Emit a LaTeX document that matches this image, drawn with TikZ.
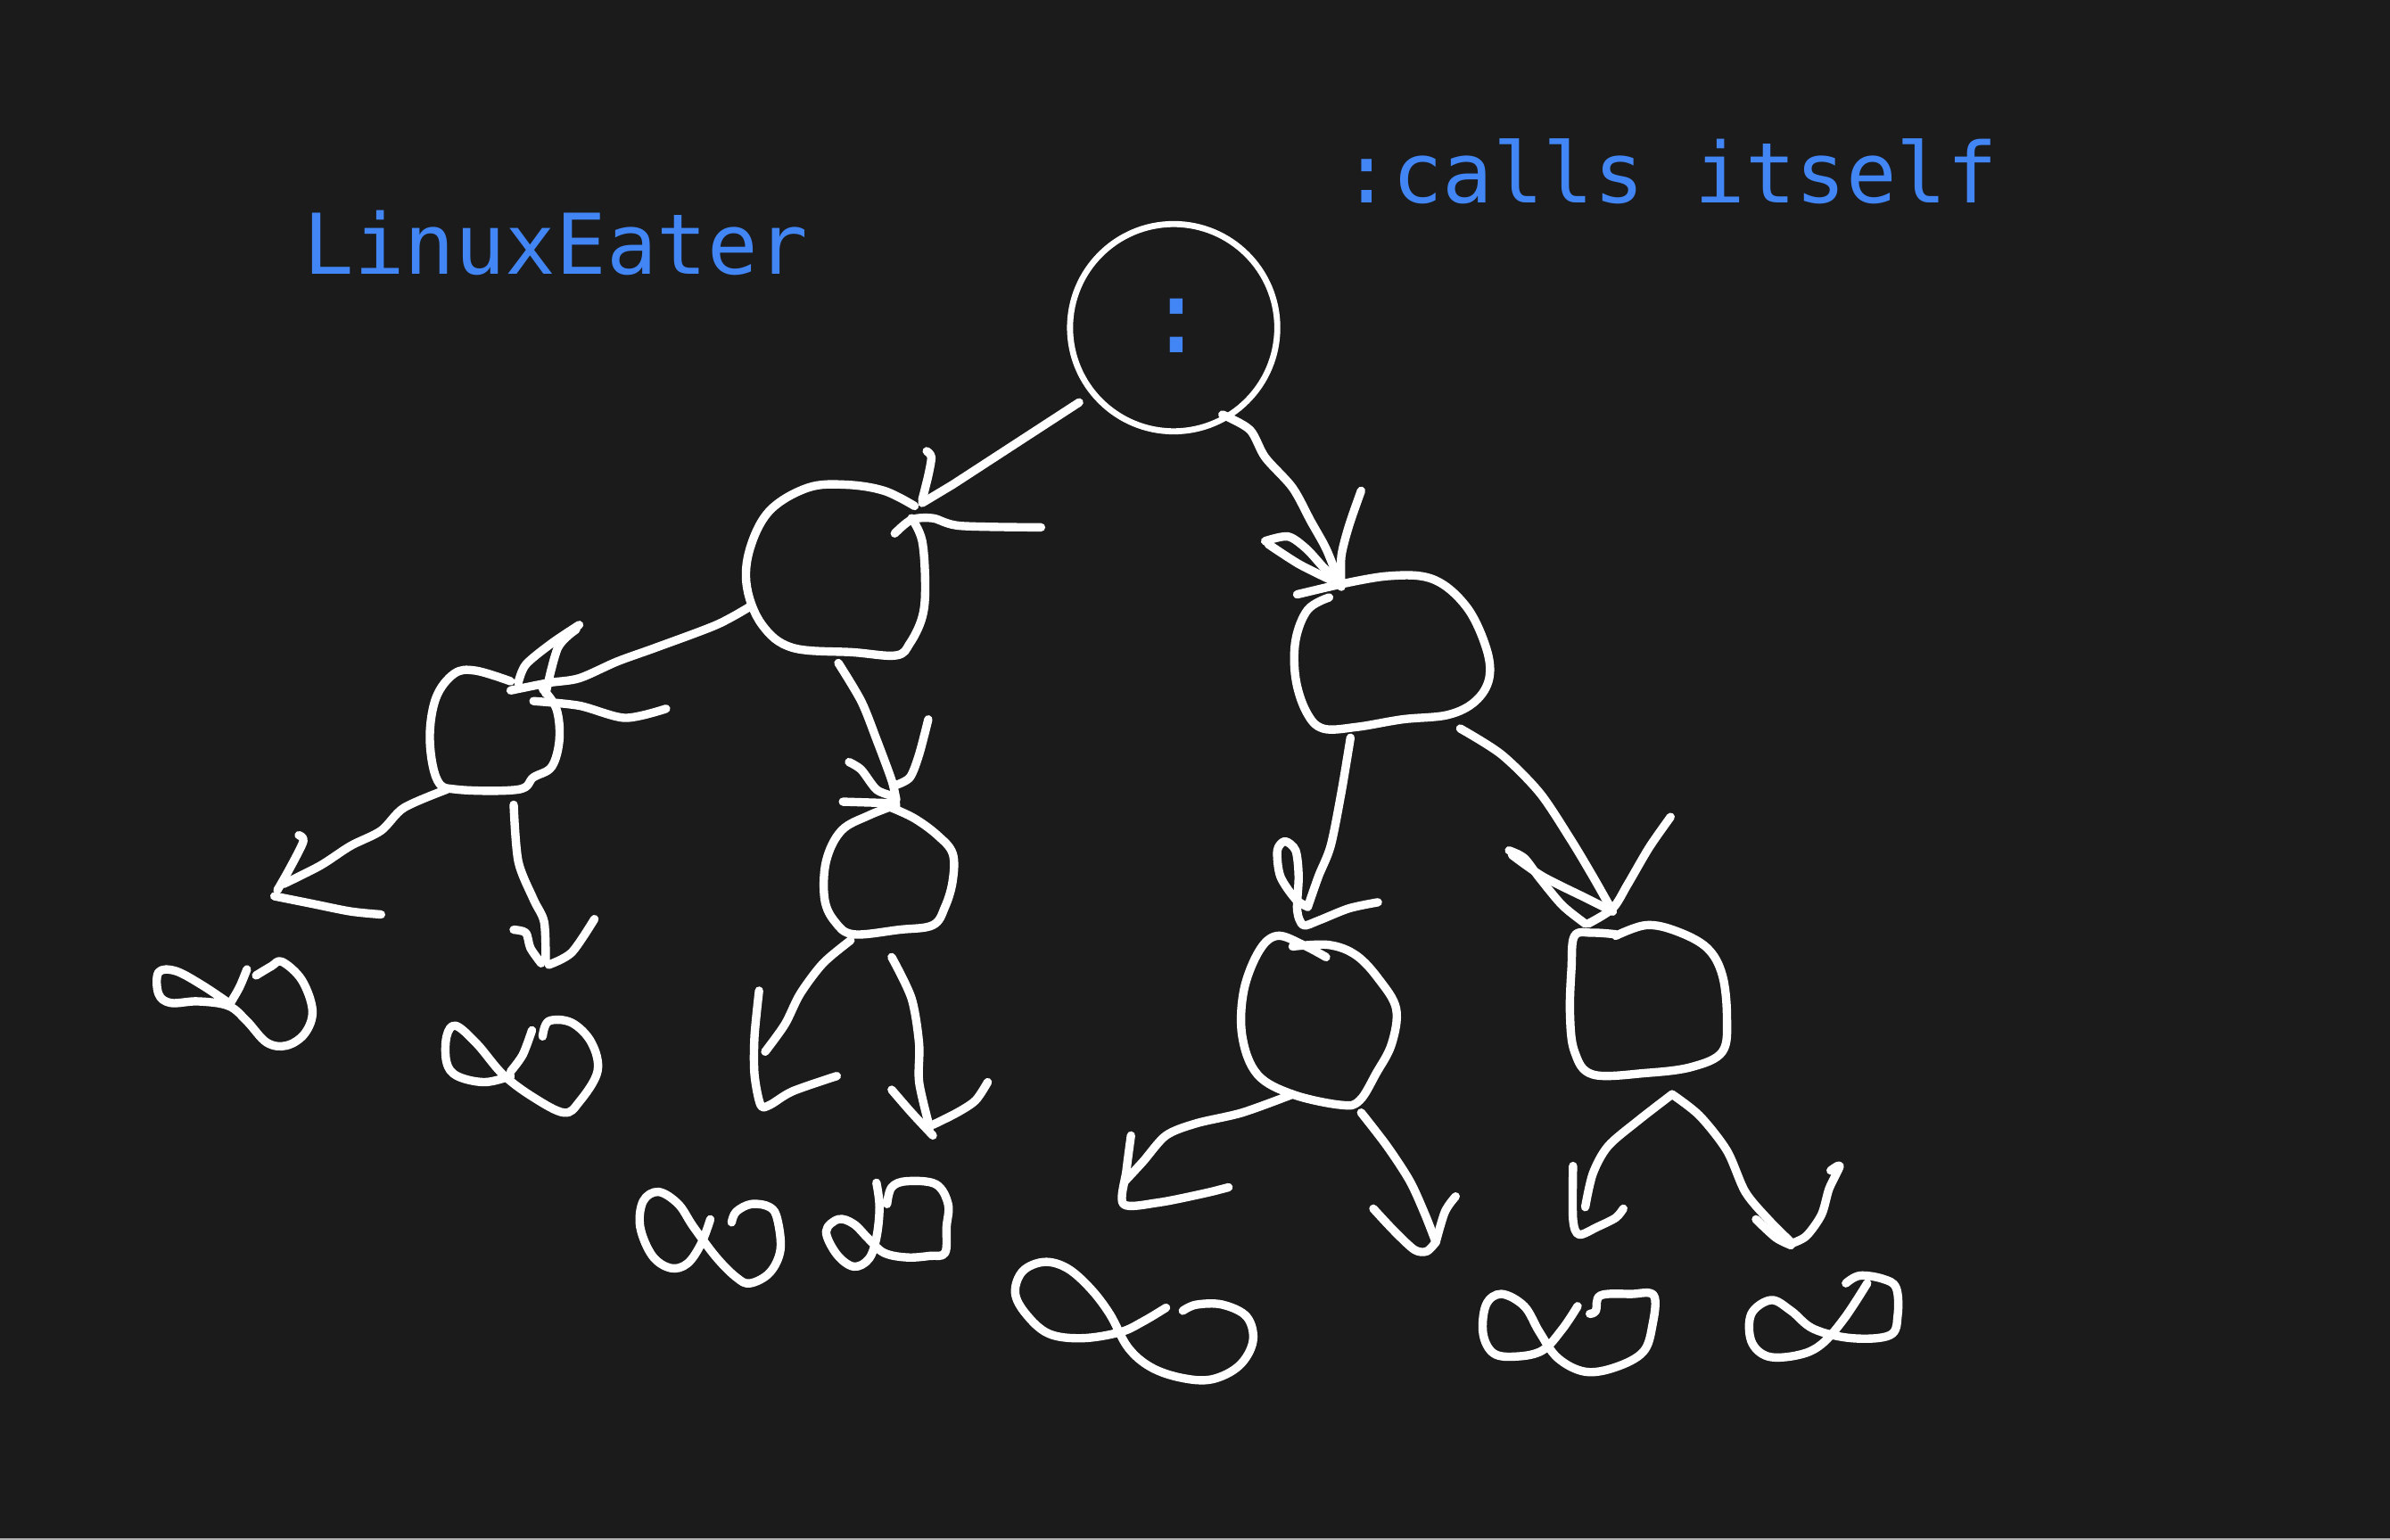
\documentclass[tikz,border=0pt]{standalone}
\usepackage{fontspec}
\newfontfamily\monofont{DejaVu Sans Mono}
\definecolor{bg}{HTML}{1B1B1B}
\definecolor{lbl}{HTML}{4285F4}
\tikzset{
  ink/.style={draw=white, line width=5.5pt, line cap=round, line join=round},
  thinink/.style={draw=white, line width=4pt},
  lbltext/.style={text=lbl, inner sep=0pt, font=\monofont\fontsize{55}{60}\selectfont},
}
\begin{document}
\begin{tikzpicture}[x=1pt,y=-1pt]
\fill[bg] (0,0) rectangle (1568,1010.4);
\fill[gray!60] (0,1009.4) rectangle (1568,1010.4);
\useasboundingbox (0,0) rectangle (1568,1010.4);

% labels
\node[lbltext, anchor=base west] (t1) at (199,180) {LinuxEater};
\node[lbltext, anchor=base west] (t2) at (880,133) {:calls itself};

% root
\draw[thinink] (770,215) circle (68);
\node[lbltext, font=\monofont\fontsize{68}{72}\selectfont] (rootc) at (772,214) {:};

% root -> A
\draw[ink] (708,264) -- (625,318) -- (605,330);
\draw[ink] plot[smooth] coordinates {(608,296) (611,300) (609,312) (605,328)};
\draw[ink] plot[smooth] coordinates {(587,350) (598,341) (612,340) (630,345) (683,346)};

% node A
\draw[ink] plot[smooth, tension=0.6] coordinates {(600,332) (580,322) (555,318) (530,320) (505,335) (492,360) (490,385) (500,410) (520,425) (560,428) (588,430) (597,422) (605,405) (607,385) (605,355) (598,340)};

% A -> B
\draw[ink] plot[smooth] coordinates {(492,398) (470,410) (430,425) (405,434) (380,445) (360,448) (335,453)};
\draw[ink] plot[smooth] coordinates {(380,410) (362,422) (345,436) (340,448)};
\draw[ink] plot[smooth] coordinates {(378,413) (366,425) (358,455)};
\draw[ink] plot[smooth] coordinates {(350,460) (380,463) (410,471) (437,465)};

% node B
\draw[ink] plot[smooth, tension=0.6] coordinates {(335,447) (312,440) (298,442) (286,458) (282,485) (287,512) (300,518) (340,518) (350,510) (362,503) (367,485) (365,465) (356,452)};

% B -> left
\draw[ink] plot[smooth] coordinates {(293,518) (265,530) (250,545) (230,555) (210,568) (186,580)};
\draw[ink] plot[smooth] coordinates {(196,548) (199,552) (190,570) (182,584)};
\draw[ink] plot[smooth] coordinates {(180,588) (205,593) (230,598) (250,600)};

% B -> right
\draw[ink] plot[smooth] coordinates {(337,528) (340,565) (350,590) (357,605) (358,630)};
\draw[ink] plot[smooth] coordinates {(337,610) (345,612) (348,622) (355,632)};
\draw[ink] plot[smooth] coordinates {(390,603) (375,625) (360,633)};

% infinity 1
\draw[ink] plot[smooth, tension=0.6] coordinates {(150,658) (132,646) (115,637) (104,638) (104,652) (112,658) (130,657) (150,660) (162,670) (175,684) (188,686) (200,678) (205,663) (198,643) (185,631) (178,634) (168,640)};
\draw[ink] plot[smooth] coordinates {(150,660) (157,648) (162,636)};

% infinity 2
\draw[ink] plot[smooth, tension=0.6] coordinates {(335,706) (318,710) (300,706) (293,697) (293,680) (299,673) (313,685) (330,705) (350,720) (370,730) (380,723) (392,703) (388,684) (375,671) (360,670) (356,680)};
\draw[ink] plot[smooth] coordinates {(335,703) (343,692) (349,676)};

% A -> C
\draw[ink] plot[smooth] coordinates {(550,435) (565,460) (575,485) (585,512) (588,525)};
\draw[ink] plot[smooth] coordinates {(557,500) (565,505) (575,518) (585,522)};
\draw[ink] plot[smooth] coordinates {(609,472) (603,495) (597,510) (588,515)};
\draw[ink] (553,526) -- (585,527);

% node C
\draw[ink] plot[smooth, tension=0.6] coordinates {(588,528) (570,535) (552,545) (542,565) (541,590) (548,605) (560,613) (590,610) (612,607) (620,595) (625,578) (625,560) (615,548) (600,537) (585,530)};

% C -> left
\draw[ink] plot[smooth] coordinates {(558,617) (540,632) (525,652) (515,672) (502,690)};
\draw[ink] plot[smooth] coordinates {(498,650) (495,680) (495,705) (499,725) (505,725) (520,716) (549,706)};

% C -> right
\draw[ink] plot[smooth] coordinates {(585,628) (598,655) (603,685) (603,710) (610,740)};
\draw[ink] plot[smooth] coordinates {(585,715) (598,730) (612,745)};
\draw[ink] plot[smooth] coordinates {(648,710) (640,722) (628,730) (612,738)};

% infinity 3
\draw[ink] plot[smooth, tension=0.6] coordinates {(466,800) (460,816) (451,829) (440,832) (428,824) (420,805) (422,788) (432,782) (445,790) (455,805) (470,825) (483,838) (492,842) (505,835) (512,820) (510,800) (505,792) (493,790) (483,795) (480,802)};

% infinity 4
\draw[ink] plot[smooth, tension=0.6] coordinates {(575,776) (577,792) (575,812) (570,826) (560,831) (549,823) (542,808) (550,800) (560,803) (570,813) (580,822) (595,825) (610,824) (620,822) (621,805) (622,790) (614,777) (595,775) (585,779) (582,790)};

% root -> D
\draw[ink] plot[smooth] coordinates {(802,272) (820,282) (830,300) (848,320) (860,342) (870,360) (878,380)};
\draw[ink] plot[smooth] coordinates {(893,322) (885,345) (880,365) (880,385)};
\draw[ink] plot[smooth] coordinates {(830,355) (845,352) (857,360) (868,372) (878,382)};
\draw[ink] plot[smooth] coordinates {(832,357) (852,370) (872,380)};
\draw[ink] (851,390) -- (872,385);

% node D
\draw[ink] plot[smooth, tension=0.6] coordinates {(872,385) (910,378) (940,380) (962,398) (975,425) (977,445) (968,460) (950,469) (920,472) (890,477) (868,478) (857,467) (850,445) (850,420) (858,400) (872,392)};

% D -> E
\draw[ink] plot[smooth] coordinates {(886,484) (880,520) (873,555) (865,575) (858,595)};
\draw[ink] plot[smooth] coordinates {(858,595) (850,590) (840,575) (838,558) (843,552) (850,558) (852,575) (851,597) (855,607) (865,604) (885,596) (904,592)};

% node E
\draw[ink] plot[smooth, tension=0.6] coordinates {(870,628) (855,620) (838,614) (826,624) (816,650) (815,680) (825,705) (848,718) (880,725) (892,722) (903,704) (913,685) (916,662) (905,643) (890,627) (872,620) (848,621)};

% E -> left
\draw[ink] plot[smooth] coordinates {(848,718) (815,730) (785,737) (765,745) (750,762) (738,775)};
\draw[ink] plot[smooth] coordinates {(742,745) (739,768) (737,790) (760,789) (790,783) (806,779)};

% E -> right
\draw[ink] plot[smooth] coordinates {(893,730) (910,752) (925,775) (935,797) (942,815)};
\draw[ink] plot[smooth] coordinates {(901,793) (915,808) (928,820) (936,821) (942,815)};
\draw[ink] plot[smooth] coordinates {(955,785) (948,795) (942,815)};

% infinity 5
\draw[ink] plot[smooth, tension=0.6] coordinates {(765,858) (750,867) (735,874) (710,878) (688,875) (673,862) (666,848) (671,834) (685,828) (700,832) (715,845) (728,862) (740,884) (755,897) (775,904) (795,905) (813,896) (822,880) (818,864) (802,856) (785,856) (776,860)};

% D -> F
\draw[ink] plot[smooth] coordinates {(958,478) (985,495) (1010,520) (1030,550) (1045,575) (1058,598)};
\draw[ink] plot[smooth] coordinates {(990,558) (1000,563) (1010,576) (1025,594) (1040,606)};
\draw[ink] plot[smooth] coordinates {(992,561) (1012,575) (1040,589) (1058,598)};
\draw[ink] plot[smooth] coordinates {(1096,536) (1082,556) (1068,580) (1058,596) (1042,606)};

% node F
\draw[ink] plot[smooth, tension=0.6] coordinates {(1060,613) (1045,612) (1033,614) (1031,635) (1030,665) (1033,690) (1045,705) (1080,704) (1110,700) (1130,690) (1133,668) (1130,640) (1120,622) (1100,611) (1080,607) (1060,614)};

% F -> children
\draw[ink] plot[smooth] coordinates {(1040,792) (1045,770) (1055,752) (1075,735) (1097,718)};
\draw[ink] plot[smooth] coordinates {(1097,718) (1115,732) (1133,755) (1145,782) (1160,800) (1175,815)};
\draw[ink] plot[smooth] coordinates {(1032,765) (1032,800) (1036,810) (1048,805) (1060,799) (1065,793)};
\draw[ink] plot[smooth] coordinates {(1152,800) (1165,812) (1175,817)};
\draw[ink] plot[smooth] coordinates {(1201,768) (1207,765) (1200,780) (1195,797) (1185,811) (1175,816)};

% infinity 6
\draw[ink] plot[smooth, tension=0.6] coordinates {(1035,857) (1025,872) (1012,886) (995,890) (980,888) (973,875) (975,856) (985,849) (1000,857) (1010,874) (1022,891) (1040,900) (1060,897) (1078,887) (1084,870) (1085,850) (1070,849) (1050,850) (1047,860) (1043,862)};

% infinity 7
\draw[ink] plot[smooth, tension=0.6] coordinates {(1225,842) (1210,865) (1195,882) (1180,889) (1160,890) (1149,880) (1149,862) (1162,853) (1175,860) (1190,872) (1215,878) (1240,876) (1245,863) (1244,845) (1235,839) (1220,837) (1211,842)};

\end{tikzpicture}
\end{document}
